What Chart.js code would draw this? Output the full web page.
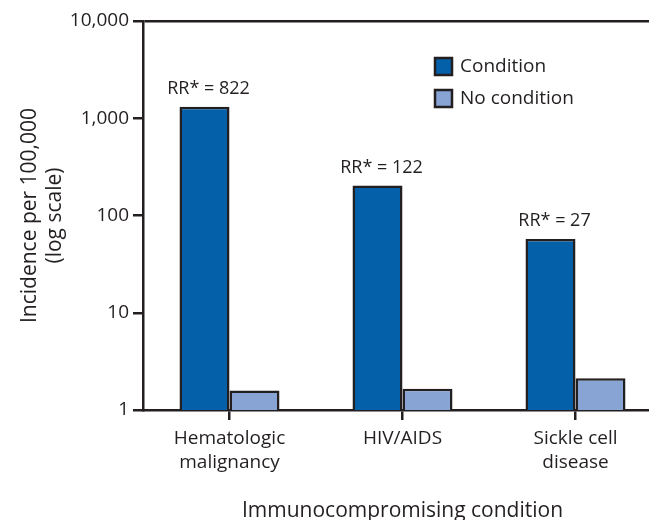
<!DOCTYPE html>
<html>
<head>
<meta charset="utf-8">
<script src="https://cdn.jsdelivr.net/npm/chart.js@4/dist/chart.umd.min.js"></script>
<style>
  html, body { margin: 0; padding: 0; background: #fff; overflow: hidden; }
  #wrap { width: 664px; height: 520px; position: relative; }
</style>
</head>
<body>
<div id="wrap"><canvas id="c"></canvas></div>
<script>
// data
const categories = [['Hematologic', 'malignancy'], 'HIV/AIDS', ['Sickle cell', 'disease']];
const conditionValues = [1310, 203, 57.3];
const noConditionValues = [1.59, 1.65, 2.12];
const rrLabels = ['RR* = 822', 'RR* = 122', 'RR* = 27'];
const yTicks = [1, 10, 100, 1000, 10000];

const ink = '#231f20';
const font = 'Open Sans';

// RR text above each Condition bar + legend
const notes = {
  id: 'notes',
  afterDatasetsDraw(chart) {
    const ctx = chart.ctx;
    ctx.save();
    ctx.fillStyle = ink;
    ctx.font = '18px "' + font + '"';
    ctx.textAlign = 'center';
    ctx.textBaseline = 'bottom';
    chart.getDatasetMeta(0).data.forEach((bar, i) => {
      ctx.fillText(rrLabels[i], bar.x + 4, bar.y - 9);
    });

    // legend
    const ds = chart.data.datasets;
    ctx.textAlign = 'left';
    ctx.textBaseline = 'middle';
    ctx.font = '19px "' + font + '"';
    ds.forEach((d, i) => {
      const y = 57 + i * 32;
      ctx.fillStyle = d.backgroundColor;
      ctx.fillRect(434, y, 19, 19);
      ctx.strokeStyle = ink;
      ctx.lineWidth = 2.5;
      ctx.strokeRect(435, y + 1, 17, 17);
      ctx.fillStyle = ink;
      ctx.fillText(d.label, 460, y + 10);
    });
    ctx.restore();
  }
};

new Chart(document.getElementById('c'), {
  type: 'bar',
  data: {
    labels: categories,
    datasets: [
      { label: 'Condition', data: conditionValues, backgroundColor: '#0560aa',
        borderColor: ink, borderWidth: 2.5, borderSkipped: 'bottom' },
      { label: 'No condition', data: noConditionValues, backgroundColor: '#88a4d4',
        borderColor: ink, borderWidth: 2.5, borderSkipped: 'bottom' }
    ]
  },
  options: {
    responsive: true,
    maintainAspectRatio: false,
    animation: false,
    layout: { padding: { top: 21, right: 2, left: 0, bottom: 0 } },
    plugins: { legend: { display: false }, tooltip: { enabled: false } },
    datasets: { bar: { categoryPercentage: 0.578, barPercentage: 1 } },
    scales: {
      x: {
        afterFit: s => { s.height = 110; },
        grid: { offset: false, drawOnChartArea: false, tickLength: 10, tickColor: ink, lineWidth: 2.5 },
        border: { display: true, color: ink, width: 2.5 },
        ticks: { color: ink, font: { family: font, size: 19, lineHeight: 1.3 }, padding: 6, maxRotation: 0 },
        title: { display: true, text: 'Immunocompromising condition', color: ink,
                 font: { family: font, size: 21 }, padding: { top: 10, bottom: -4 } }
      },
      y: {
        type: 'logarithmic',
        min: 1,
        max: 10000,
        afterFit: s => { s.width = 143; },
        afterBuildTicks: s => { s.ticks = yTicks.map(v => ({ value: v })); },
        grid: {
          color: c => (c.tick && c.tick.value === 10000 ? ink : 'rgba(0,0,0,0)'),
          tickColor: ink, tickLength: 10, lineWidth: 2.5
        },
        border: { display: true, color: ink, width: 2.5 },
        ticks: { color: ink, font: { family: font, size: 19 }, padding: 4,
                 callback: v => v.toLocaleString('en-US') },
        title: { display: true, text: ['Incidence per 100,000', '(log scale)'], color: ink,
                 font: { family: font, size: 21, lineHeight: 1.2 }, padding: { top: 17, bottom: 0 } }
      }
    }
  },
  plugins: [notes]
});
</script>
</body>
</html>
